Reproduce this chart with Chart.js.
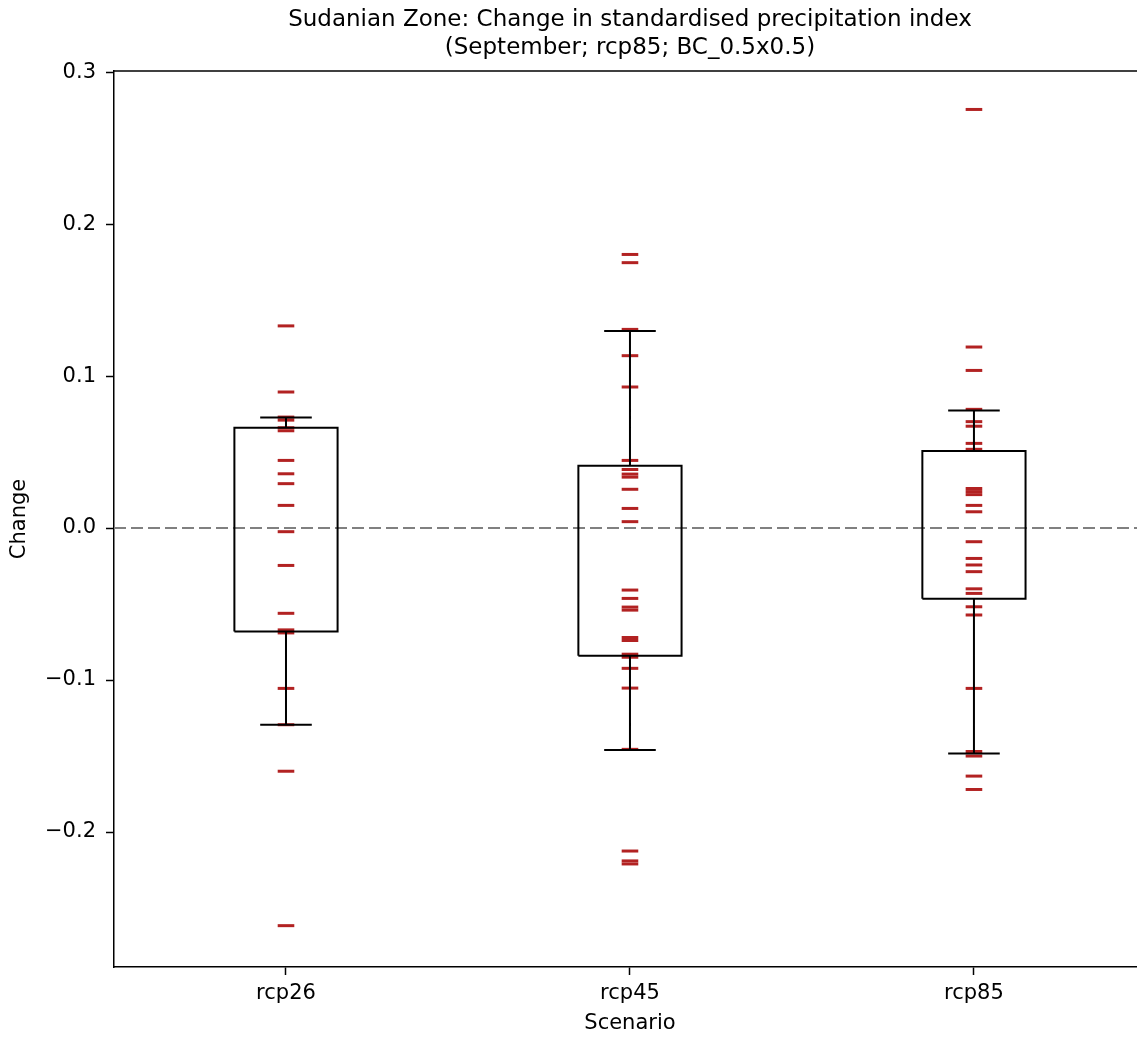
<!DOCTYPE html>
<html>
<head>
<meta charset="utf-8">
<script src="https://cdn.jsdelivr.net/npm/chart.js@4.4.1/dist/chart.umd.min.js"></script>
<style>
  html, body { margin: 0; padding: 0; background: #fff; overflow: hidden; }
  #wrap { width: 1137px; height: 1038px; position: relative; }
</style>
</head>
<body>
<div id="wrap"><canvas id="c" width="1137" height="1038"></canvas></div>
<script>
// ---- Data ----
const scenarios = ['rcp26', 'rcp45', 'rcp85'];
const titleLines = ['Sudanian Zone: Change in standardised precipitation index', '(September; rcp85; BC_0.5x0.5)'];
const xAxisTitle = 'Scenario';
const yAxisTitle = 'Change';
const yTicks = [-0.2, -0.1, 0.0, 0.1, 0.2, 0.3];

const rcp26Values = [0.133, 0.0895, 0.073, 0.071, 0.066, 0.064, 0.0445, 0.0357, 0.0292, 0.0149,
  -0.0024, -0.0246, -0.0561, -0.067, -0.069, -0.1055, -0.1294, -0.160, -0.2616];
const rcp45Values = [0.180, 0.1746, 0.1307, 0.1134, 0.0928, 0.0445, 0.0385, 0.0355, 0.0335, 0.0255,
  0.0129, 0.0042, -0.0408, -0.0463, -0.052, -0.054, -0.072, -0.074, -0.083, -0.085, -0.0923,
  -0.1053, -0.1456, -0.2125, -0.219, -0.221];
const rcp85Values = [0.2754, 0.1191, 0.1037, 0.0781, 0.070, 0.067, 0.0557, 0.0518, 0.026, 0.024,
  0.022, 0.0149, 0.0107, -0.009, -0.020, -0.0243, -0.0287, -0.040, -0.043, -0.0518, -0.0572,
  -0.1055, -0.147, -0.150, -0.1632, -0.172];

const boxHigh = [0.066, 0.041, 0.0507];
const boxLow = [-0.068, -0.084, -0.0465];
const whiskerHigh = [0.0728, 0.1297, 0.0773];
const whiskerLow = [-0.1295, -0.1461, -0.1483];

// ---- Styling constants ----
const FONT = "'DejaVu Sans', sans-serif";
const X_MIN = 0.5, X_MAX = 3.474;
const Y_MIN = -0.2888, Y_MAX = 0.3007;
const BOX_HALF = 0.15, CAP_HALF = 0.075;
const RED = '#b22222';

const allValues = [rcp26Values, rcp45Values, rcp85Values];

const boxPts = [];
const whiskerPts = [];
scenarios.forEach((s, i) => {
  const p = i + 1;
  boxPts.push({x: p - BOX_HALF, y: boxLow[i]}, {x: p + BOX_HALF, y: boxLow[i]},
              {x: p + BOX_HALF, y: boxHigh[i]}, {x: p - BOX_HALF, y: boxHigh[i]},
              {x: p - BOX_HALF, y: boxLow[i]}, {x: p, y: null});
  whiskerPts.push({x: p, y: boxHigh[i]}, {x: p, y: whiskerHigh[i]}, {x: p, y: null},
                  {x: p - CAP_HALF, y: whiskerHigh[i]}, {x: p + CAP_HALF, y: whiskerHigh[i]}, {x: p, y: null},
                  {x: p, y: boxLow[i]}, {x: p, y: whiskerLow[i]}, {x: p, y: null},
                  {x: p - CAP_HALF, y: whiskerLow[i]}, {x: p + CAP_HALF, y: whiskerLow[i]}, {x: p, y: null});
});

const datasets = [
  { label: 'boxes', data: boxPts, showLine: true, spanGaps: false,
    borderColor: '#000', borderWidth: 2, pointRadius: 0, fill: false, order: 0 },
  { label: 'whiskers', data: whiskerPts, showLine: true, spanGaps: false,
    borderColor: '#000', borderWidth: 2, pointRadius: 0, fill: false, order: 0 }
];
allValues.forEach((vals, i) => {
  datasets.push({
    label: scenarios[i], data: vals.map(v => ({x: i + 1, y: v})),
    pointStyle: 'line', pointRadius: 8.3, pointBorderWidth: 3,
    borderColor: RED, backgroundColor: RED, showLine: false, order: 1
  });
});
datasets.push({
  label: 'zero', data: [{x: X_MIN, y: 0}, {x: X_MAX, y: 0}], showLine: true,
  borderColor: '#808080', borderWidth: 2, borderDash: [12, 5], pointRadius: 0, order: 2
});

const frameAndTitle = {
  id: 'frameAndTitle',
  afterDatasetsDraw(chart) {
    const {ctx, chartArea} = chart;
    ctx.save();
    ctx.strokeStyle = '#000';
    ctx.lineWidth = 1.5;
    ctx.beginPath();
    ctx.moveTo(chartArea.left, chartArea.top);
    ctx.lineTo(chartArea.right, chartArea.top);
    ctx.stroke();
    ctx.restore();
  },
  afterDraw(chart) {
    const {ctx} = chart;
    const cx = chart.scales.x.getPixelForValue(2);
    ctx.save();
    ctx.fillStyle = '#000';
    ctx.textAlign = 'center';
    ctx.textBaseline = 'middle';
    ctx.font = "23px " + FONT;
    titleLines.forEach((t, i) => ctx.fillText(t, cx, 20 + i * 28));
    ctx.font = "21px " + FONT;
    ctx.fillText(xAxisTitle, cx, 1024);
    ctx.restore();
  }
};

new Chart(document.getElementById('c'), {
  type: 'scatter',
  data: { datasets },
  plugins: [frameAndTitle],
  options: {
    responsive: false,
    animation: false,
    layout: { autoPadding: false, padding: { top: 71, left: 0, right: 0, bottom: 0 } },
    plugins: {
      legend: { display: false },
      tooltip: { enabled: false },
      title: { display: false }
    },
    scales: {
      x: {
        type: 'linear', min: X_MIN, max: X_MAX,
        afterFit(scale) { scale.height = 71; scale.paddingLeft = 0; scale.paddingRight = 0; },
        afterBuildTicks(scale) { scale.ticks = scenarios.map((s, i) => ({ value: i + 1 })); },
        ticks: {
          color: '#000', font: { family: FONT, size: 21 }, padding: 6,
          maxRotation: 0, autoSkip: false,
          callback: (v) => scenarios[Math.round(v) - 1]
        },
        grid: { display: true, drawOnChartArea: false, drawTicks: true, tickLength: 8, tickColor: '#000', tickWidth: 1.5 },
        border: { display: true, color: '#000', width: 1.5 },
        title: { display: false }
      },
      y: {
        type: 'linear', min: Y_MIN, max: Y_MAX,
        afterFit(scale) { scale.width = 114; scale.paddingTop = 0; scale.paddingBottom = 0; },
        afterBuildTicks(scale) { scale.ticks = yTicks.map(v => ({ value: v })); },
        ticks: {
          color: '#000', font: { family: FONT, size: 21 }, padding: 10,
          callback: (v) => (v < 0 ? '\u2212' : '') + Math.abs(v).toFixed(1)
        },
        grid: { display: true, drawOnChartArea: false, drawTicks: true, tickLength: 8, tickColor: '#000', tickWidth: 1.5 },
        border: { display: true, color: '#000', width: 1.5 },
        title: { display: true, text: yAxisTitle, color: '#000', font: { family: FONT, size: 21 }, padding: { top: 7, bottom: 0 } }
      }
    }
  }
});
</script>
</body>
</html>
